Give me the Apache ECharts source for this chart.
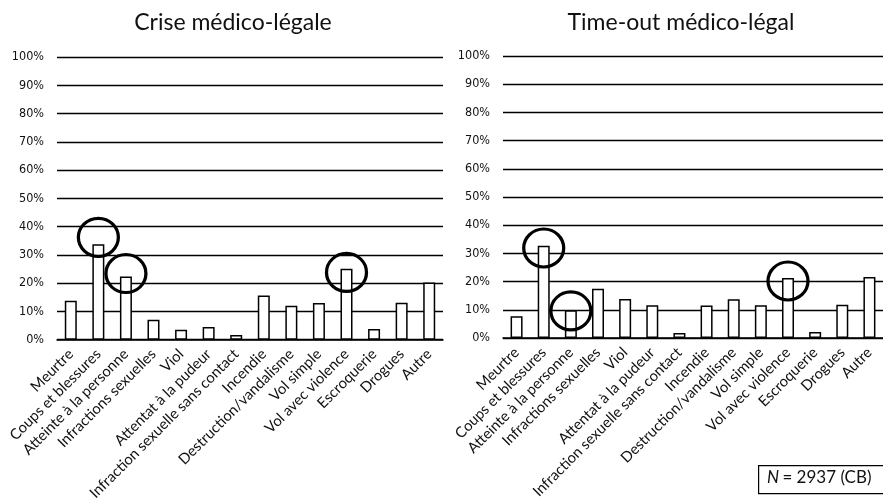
<!DOCTYPE html>
<html><head><meta charset="utf-8">
<script src="https://cdn.jsdelivr.net/npm/echarts@6/dist/echarts.min.js"></script>
<style>html,body{margin:0;padding:0;background:#fff}#c{width:883px;height:503px}</style>
</head><body><div id="c"></div>
<script>
const categories = ['Meurtre','Coups et blessures','Atteinte à la personne','Infractions sexuelles','Viol','Attentat à la pudeur','Infraction sexuelle sans contact','Incendie','Destruction/vandalisme','Vol simple','Vol avec violence','Escroquerie','Drogues','Autre'];
const yTicks = [0,10,20,30,40,50,60,70,80,90,100];
const titles = ['Crise médico-légale','Time-out médico-légal'];
const criseValues = [13.8, 33.8, 22.4, 7.1, 3.5, 4.5, 1.7, 15.6, 12.0, 13.0, 25.1, 3.8, 13.1, 20.2];
const timeoutValues = [7.7, 32.7, 9.8, 17.5, 13.8, 11.6, 1.8, 11.5, 13.7, 11.6, 21.3, 2.1, 11.8, 21.6];
const criseCircles = [['Coups et blessures', 36.2], ['Atteinte à la personne', 23.4], ['Vol avec violence', 23.8]];
const timeoutCircles = [['Coups et blessures', 31.9], ['Atteinte à la personne', 9.6], ['Vol avec violence', 20.2]];
const noteText = '= 2937 (CB)';

const chart = echarts.init(document.getElementById('c'));
const labelFont = "Lato, 'Open Sans', sans-serif";
const tickFont = "'Liberation Sans Narrow', 'DejaVu Sans Condensed', sans-serif";
function xAxis(i){return {type:'category', gridIndex:i, data:categories,
  axisLine:{show:true, lineStyle:{color:'#000', width:1.5}}, axisTick:{show:false},
  axisLabel:{rotate:45, interval:0, color:'#111', fontSize:14.8, fontFamily:labelFont, margin:12}};}
function yAxis(i){return {type:'value', gridIndex:i, min:yTicks[0], max:yTicks[yTicks.length-1], interval:yTicks[1]-yTicks[0],
  axisLine:{show:false}, axisTick:{show:false},
  splitLine:{show:true, lineStyle:{color:'#000', width:1.3}},
  axisLabel:{formatter:'{value}%', color:'#111', fontSize:12.5, fontFamily:tickFont, margin:13}};}
function bars(i, vals){return {type:'bar', xAxisIndex:i, yAxisIndex:i, data:vals, barWidth:12,
  itemStyle:{color:'#fff', borderColor:'#000', borderWidth:1.5}, z:3};}
function circles(i, pts){return {type:'scatter', xAxisIndex:i, yAxisIndex:i, data:pts, symbol:'circle', symbolSize:[40,38],
  itemStyle:{color:'rgba(0,0,0,0)', borderColor:'#000', borderWidth:3.2, opacity:1}, z:5, silent:true};}
chart.setOption({
  animation:false,
  backgroundColor:'#fff',
  title:[
    {text:titles[0], left:228, top:6, textAlign:'center', textStyle:{fontFamily:labelFont, fontWeight:'normal', fontSize:23, color:'#111'}},
    {text:titles[1], left:676, top:6, textAlign:'center', textStyle:{fontFamily:labelFont, fontWeight:'normal', fontSize:23, color:'#111'}}
  ],
  grid:[
    {left:57, right:440, top:57, bottom:163},
    {left:503, right:-5, top:56, bottom:165}
  ],
  xAxis:[xAxis(0), xAxis(1)],
  yAxis:[yAxis(0), yAxis(1)],
  series:[bars(0, criseValues), bars(1, timeoutValues), circles(0, criseCircles), circles(1, timeoutCircles)],
  graphic:[
    {type:'rect', left:758, top:465, shape:{width:130, height:28}, style:{fill:'#fff', stroke:'#000', lineWidth:1.2}},
    {type:'text', left:767, top:469, style:{text:'{i|N} {n|'+noteText+'}', rich:{i:{fontStyle:'italic', fontSize:17, fontFamily:labelFont, fill:'#111'}, n:{fontSize:17, fontFamily:labelFont, fill:'#111'}}}}
  ]
});
</script></body></html>
